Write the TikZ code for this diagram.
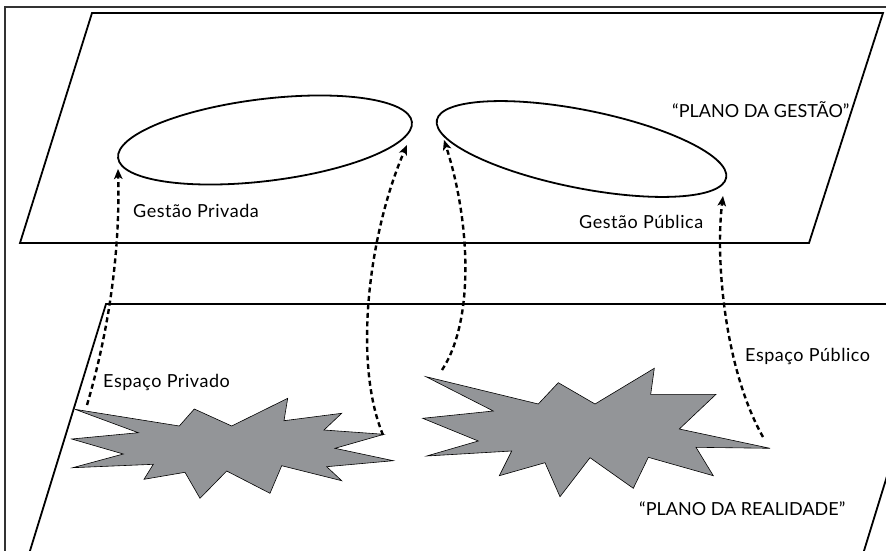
\documentclass[tikz,border=0pt]{standalone}
\usepackage{fontspec}
\setmainfont{Lato}
\newfontfamily\lblspaced[LetterSpace=3]{Lato}
\usetikzlibrary{arrows.meta,shapes.geometric}
\definecolor{blastgray}{HTML}{939598}
\begin{document}
\begin{tikzpicture}[x=1pt,y=-1pt,
  frame/.style={line width=1.2pt, draw=black!80},
  plane/.style={line width=1.8pt, line join=miter},
  sphere/.style={draw, ellipse, line width=1.8pt, inner sep=0pt},
  blast/.style={fill=blastgray, draw=black, line width=0.6pt, line join=miter},
  link/.style={line width=2.4pt, dash pattern=on 5pt off 3.5pt,
    -{Stealth[length=10pt,width=8.5pt,inset=2.5pt]}},
  lbl/.style={inner sep=0pt, anchor=base west, font=\fontsize{18}{21}\selectfont},
  sublbl/.style={lbl, font=\lblspaced\fontsize{18}{21}\selectfont}]
\useasboundingbox (0,0) rectangle (886,551);
\clip (0,0) rectangle (886,551);

% outer frame
\draw[frame] (5,7) rectangle (900,570);

% management plane and reality plane
\draw[plane] (92,13) -- (883,13) -- (809,243) -- (20,243) -- cycle;
\draw[plane] (106,304) -- (940,304) -- (855,580) -- (21,580) -- cycle;

% management spheres
\node[sphere, rotate=7, minimum width=296pt, minimum height=82pt] (gpriv) at (265,140) {};
\node[sphere, rotate=-11.3, minimum width=295pt, minimum height=78pt] (gpub) at (581.5,149) {};

% private space
\draw[blast] (75,409.3) -- (179.3,426) -- (194.3,409) -- (231.7,426) -- (287.7,398.3)
  -- (284,420.7) -- (341.7,413.3) -- (324,430) -- (384,434.3) -- (335,448.3)
  -- (393.3,460.7) -- (326.7,466.7) -- (341.7,480.7) -- (281.7,465.7) -- (270,493.3)
  -- (226.7,471) -- (200,498.3) -- (185,472.3) -- (144,479.3) -- (153.3,464.3)
  -- (72.7,467.7) -- (123.3,454) -- (71.7,439) -- (138.3,432.7) -- cycle;

% public space
\draw[blast] (426,376.7) -- (538.3,404) -- (558.3,382.7) -- (595,404) -- (654.3,368.3)
  -- (650.7,394.3) -- (716,394.3) -- (679.3,429) -- (770,448.3) -- (696,447.3)
  -- (713.3,475.7) -- (648.3,457.3) -- (633.3,488.3) -- (590,457.7) -- (560,496.7)
  -- (545,462.7) -- (499.3,475.7) -- (511.7,451) -- (426.7,456) -- (478.3,441)
  -- (422.7,418.3) -- (493.3,411) -- cycle;

% connector ends
\coordinate (s1) at (87,405);   \coordinate (e1) at (118,169);
\coordinate (s2) at (383,435);  \coordinate (e2) at (407,145);
\coordinate (s3) at (442,370);  \coordinate (e3) at (444,140);
\coordinate (s4) at (763,437);  \coordinate (e4) at (723,196);

\draw[link] (s1) .. controls (112,320) and (120,240) .. (e1);
\draw[link] (s2) .. controls (352,360) and (370,230) .. (e2);
\draw[link] (s3) .. controls (475,320) and (470,220) .. (e3);
\draw[link] (s4) .. controls (725,370) and (715,260) .. (e4);

% labels
\node[sublbl] (tgpriv) at (133,217.5) {Gestão Privada};
\node[sublbl] (tgpub) at (579,228) {Gestão Pública};
\node[lbl] (tplg) at (672,117) {“PLANO DA GESTÃO”};
\node[sublbl] (tepriv) at (103,387) {Espaço Privado};
\node[sublbl] (tepub) at (745,361) {Espaço Público};
\node[lbl] (tplr) at (639,515) {“PLANO DA REALIDADE”};
\end{tikzpicture}
\end{document}
